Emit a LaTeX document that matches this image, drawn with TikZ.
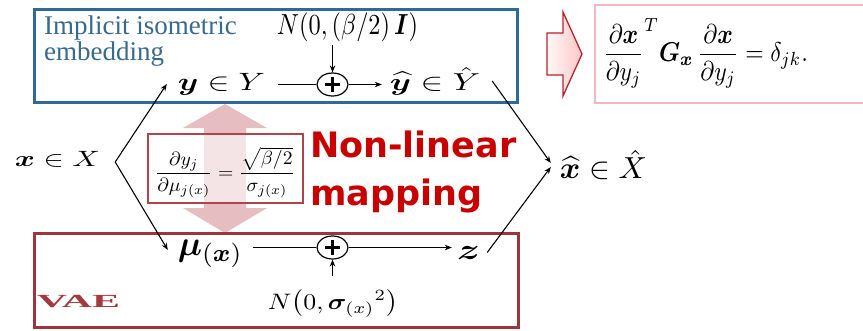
\documentclass[tikz,border=0pt]{standalone}
\usepackage{amsmath}
\usepackage{bm}
\usepackage{graphicx}
\usepackage{fontspec}
\setmainfont{Liberation Serif}
\newfontfamily\nlfont{DejaVu Sans}
\usetikzlibrary{arrows.meta,shapes.geometric,calc}
\definecolor{boxblue}{HTML}{2E6A96}
\definecolor{txtblue}{HTML}{376A8C}
\definecolor{vaered}{HTML}{9E343C}
\definecolor{vaetxt}{HTML}{A33A3E}
\definecolor{nlred}{HTML}{C80000}
\definecolor{arrowpink}{HTML}{E6BDC0}
\definecolor{pinkbox}{HTML}{F4B6BF}
\definecolor{fboxred}{HTML}{B0444C}
\definecolor{arrowred}{HTML}{B3262E}
\begin{document}
\begin{tikzpicture}[x=1pt,y=-1pt,
  ln/.style={draw=black,line width=1.1pt},
  arr/.style={ln,-{Stealth[length=7pt,width=5.5pt]}},
  mth/.style={inner sep=0pt,text=black},
  plusnode/.style={ellipse,draw=black,line width=1.2pt,minimum width=31pt,minimum height=23pt,inner sep=0pt},
  region/.style={line width=3pt,inner sep=0pt},
  bluetxt/.style={text=txtblue,inner sep=0pt,anchor=base west,font=\fontsize{27}{27}\selectfont},
  nltxt/.style={text=nlred,inner sep=0pt,anchor=base west,font=\nlfont\bfseries\fontsize{35}{35}\selectfont}
]
\useasboundingbox (0,0) rectangle (863,330);
\fill[white] (0,0) rectangle (863,330);

% pink double arrow
\fill[arrowpink] (225,104) -- (267,128) -- (246,128) -- (246,208) -- (267,208)
  -- (225,233) -- (183,208) -- (204,208) -- (204,128) -- (183,128) -- cycle;

% region boxes
\node[region,draw=boxblue,minimum width=483pt,minimum height=93pt] (iebox) at (275.5,55.5) {};
\node[region,draw=vaered,minimum width=484pt,minimum height=94pt] (vaebox) at (276,280) {};

% labels of regions
\node[bluetxt] (ie1) at (44,34) {Implicit isometric};
\node[bluetxt] (ie2) at (44,60) {embedding};
\node[inner sep=0pt,text=vaetxt] (vae) at (78.5,302) {\resizebox*{83pt}{12.5pt}{\bfseries VAE}};

% formula box
\node[draw=fboxred,line width=1.3pt,fill=white,fill opacity=0.6,minimum width=155pt,minimum height=69pt,inner sep=0pt] (fb) at (225.5,168.5) {};
\node[mth] (fbt) at (225,172.5) {\resizebox*{140pt}{51pt}{$\dfrac{\partial y_j}{\partial\mu_{j(x)}}=\dfrac{\sqrt{\beta/2}}{\sigma_{j(x)}}$}};

% non-linear mapping
\node[nltxt] (nl1) at (310,157) {Non-linear};
\node[nltxt] (nl2) at (310,205) {mapping};

% math nodes
\node[mth] (x) at (57.5,159.5) {\resizebox*{85pt}{16pt}{$\bm{x}\in X$}};
\node[mth] (y) at (221.5,84) {\resizebox*{87pt}{22pt}{$\bm{y}\in Y$}};
\node[mth] (yh) at (435,81) {\resizebox*{90pt}{28pt}{$\widehat{\bm{y}}\in\hat{Y}$}};
\node[mth] (n1) at (347.5,27.5) {\resizebox*{141pt}{29pt}{$N(0,(\beta/2)\,\bm{I})$}};
\node[mth] (xh) at (603.5,165) {\resizebox*{87pt}{30pt}{$\widehat{\bm{x}}\in\hat{X}$}};
\node[mth] (mu) at (210.5,254) {\resizebox*{65pt}{28pt}{$\bm{\mu}_{(\bm{x})}$}};
\node[mth] (z) at (468.5,252.5) {\resizebox*{23pt}{13pt}{$\bm{z}$}};
\node[mth] (n2) at (333,303.5) {\resizebox*{130pt}{27pt}{$N\bigl(0,{\bm{\sigma}_{(x)}}^{2}\bigr)$}};

% adders
\newcommand{\plussign}{\makebox[0pt]{\rule[-1.6pt]{15pt}{3.2pt}}\makebox[0pt]{\rule[-7.5pt]{3.2pt}{15pt}}}
\node[plusnode] (p1) at (332.5,84.5) {\plussign};
\node[plusnode] (p2) at (332.5,247.5) {\plussign};

% connectors
\draw[ln,shorten <=13pt] (y.east |- p1.west) -- (p1.west);
\draw[arr,shorten >=8pt] (p1.east) -- (p1.east -| yh.west);
\draw[arr,shorten <=3pt] (n1.south -| p1.north) -- (p1.north);
\draw[ln,shorten <=10pt] (mu.east |- p2.west) -- (p2.west);
\draw[arr,shorten >=5pt] (p2.east) -- (p2.east -| z.west);
\draw[arr,shorten <=14pt] (n2.north -| p2.south) -- (p2.south);

\draw[arr] ([xshift=15pt,yshift=-2.5pt]x.east) -- ([xshift=-11pt]y.west);
\draw[arr] ([xshift=15pt,yshift=-2.5pt]x.east) -- ([xshift=-10pt,yshift=4pt]mu.west);
\draw[arr] ([xshift=12pt]yh.east) -- ([xshift=-9pt,yshift=2pt]xh.west);
\draw[arr] ([xshift=7pt]z.east) -- ([xshift=-9pt,yshift=-2pt]xh.west);

% implication arrow and metric box
\draw[arrowred,line width=1.3pt,left color=red!3,right color=red!22]
  (547,33) -- (563,33) -- (563,12) -- (582,54) -- (563,96) -- (563,75) -- (547,75) -- cycle;
\node[draw=pinkbox,line width=1.6pt,minimum width=305pt,minimum height=98pt,inner sep=0pt] (mbox) at (747.5,54) {};
\node[mth] (rf) at (705.5,53) {\resizebox*{205pt}{70pt}{$\displaystyle{\frac{\partial\bm{x}}{\partial y_j}}^{T}\bm{G}_{\bm{x}}\,\frac{\partial\bm{x}}{\partial y_j}=\delta_{jk}.$}};
\end{tikzpicture}
\end{document}
